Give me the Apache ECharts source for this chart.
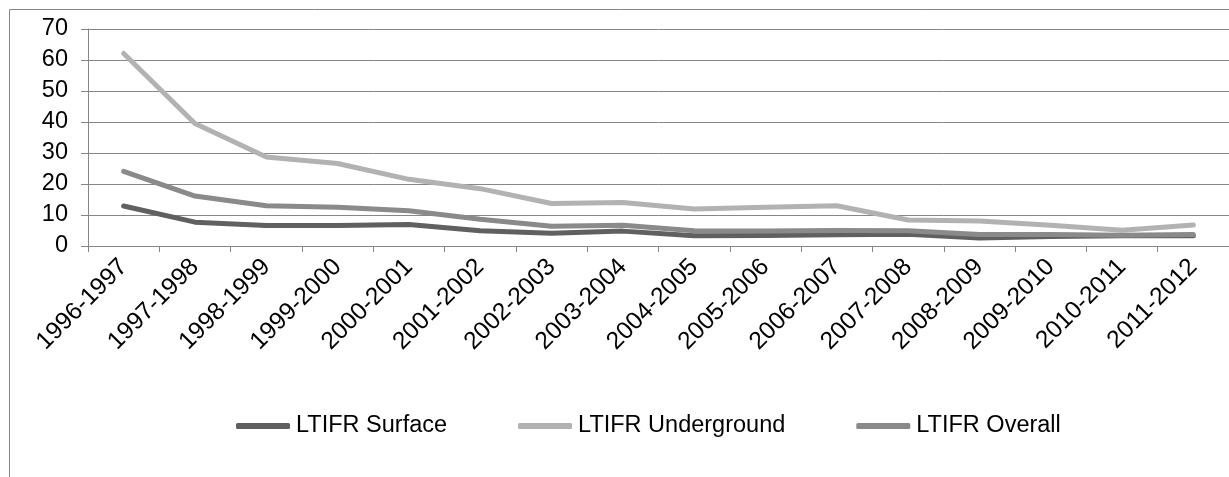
<!DOCTYPE html>
<html>
<head>
<meta charset="utf-8">
<script src="https://cdn.jsdelivr.net/npm/echarts@6/dist/echarts.min.js"></script>
<style>
html,body{margin:0;padding:0;background:#fff;}
#chart{width:1229px;height:477px;}
</style>
</head>
<body>
<div id="chart"></div>
<script>
const categories = ['1996-1997','1997-1998','1998-1999','1999-2000','2000-2001','2001-2002','2002-2003','2003-2004','2004-2005','2005-2006','2006-2007','2007-2008','2008-2009','2009-2010','2010-2011','2011-2012'];
const surface = [12.9, 7.7, 6.6, 6.6, 6.9, 4.9, 4.1, 4.8, 3.3, 3.4, 3.6, 3.8, 2.6, 3.1, 3.3, 3.3];
const underground = [62.1, 39.5, 28.7, 26.6, 21.5, 18.5, 13.7, 14.0, 11.9, 12.5, 13.0, 8.4, 8.1, 6.7, 5.1, 6.8];
const overall = [24.1, 16.1, 13.0, 12.5, 11.4, 8.6, 6.4, 6.7, 4.9, 4.8, 5.0, 4.9, 3.7, 3.7, 3.5, 3.7];
const seriesNames = ['LTIFR Surface','LTIFR Underground','LTIFR Overall'];
const yTicks = {min: 0, max: 70, interval: 10};

const colors = ['#606060', '#b2b2b2', '#8a8a8a'];
const font = 'Liberation Sans, Arial, sans-serif';
const chart = echarts.init(document.getElementById('chart'), null, {renderer: 'canvas'});
const dataSets = [surface, underground, overall];
chart.setOption({
  animation: false,
  backgroundColor: '#ffffff',
  graphic: [{
    type: 'rect', left: 7, top: 7, silent: true,
    shape: {x: 0.5, y: 0.5, width: 1300, height: 600},
    style: {fill: 'none', stroke: '#868686', lineWidth: 1}
  }],
  grid: {left: 88, top: 29, width: 1142, height: 217, containLabel: false},
  legend: {
    data: seriesNames,
    left: 231, top: 409,
    itemWidth: 54, itemHeight: 6, itemGap: 71,
    icon: 'roundRect',
    textStyle: {fontFamily: font, fontSize: 23.5, color: '#000', padding: [0,0,0,1]}
  },
  xAxis: {
    type: 'category',
    data: categories,
    boundaryGap: true,
    axisLine: {show: true, lineStyle: {color: '#868686', width: 1}},
    axisTick: {show: true, length: 6, lineStyle: {color: '#868686'}},
    axisLabel: {interval: 0, rotate: 45, margin: 17, fontFamily: font, fontSize: 24.5, color: '#000'},
    splitLine: {show: false}
  },
  yAxis: {
    type: 'value',
    min: yTicks.min, max: yTicks.max, interval: yTicks.interval,
    axisLine: {show: true, lineStyle: {color: '#868686', width: 1}},
    axisTick: {show: true, length: 7, lineStyle: {color: '#868686'}},
    axisLabel: {margin: 20, fontFamily: font, fontSize: 23.5, color: '#000'},
    splitLine: {show: true, lineStyle: {color: '#868686', width: 1}}
  },
  series: seriesNames.map((n, i) => ({
    name: n,
    type: 'line',
    data: dataSets[i],
    symbol: 'none',
    color: colors[i],
    itemStyle: {color: colors[i]},
    lineStyle: {color: colors[i], width: 5, cap: 'round', join: 'round'}
  }))
});
</script>
</body>
</html>
